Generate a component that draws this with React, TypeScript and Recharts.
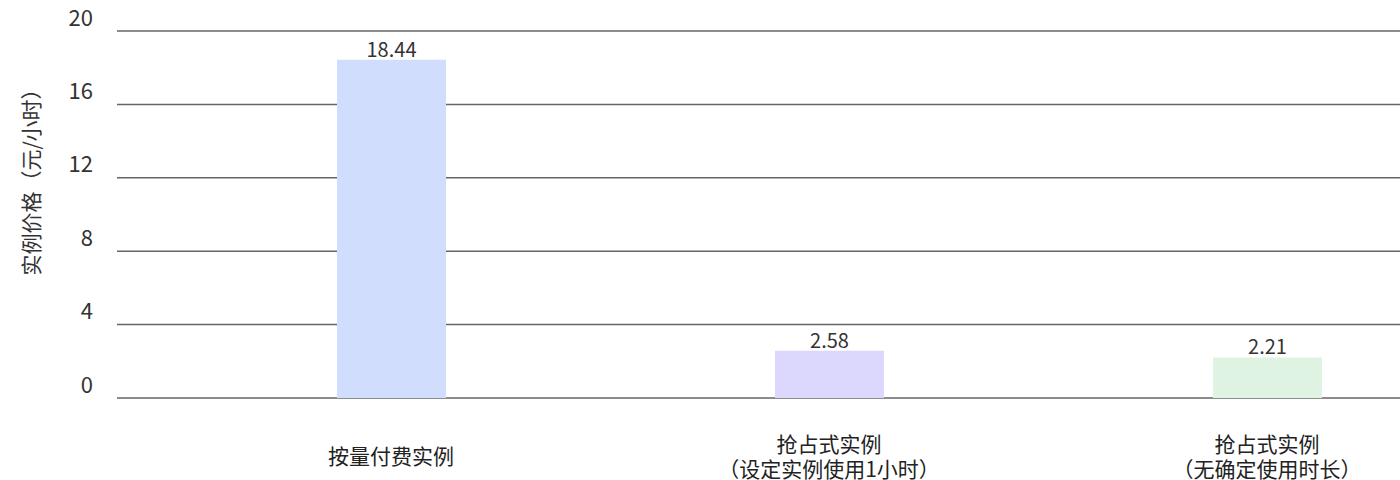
import React from 'react';
import { BarChart, Bar, XAxis, YAxis, CartesianGrid, Cell, LabelList } from 'recharts';

const categories = ['按量付费实例', '抢占式实例\n（设定实例使用1小时）', '抢占式实例\n（无确定使用时长）'];
const prices = [18.44, 2.58, 2.21];
const barColors = ['#d0ddfc', '#dcd7fc', '#dff3e3'];
const yTicks = [0, 4, 8, 12, 16, 20];
const yLabel = '实例价格（元/小时）';

const FONT = '"Noto Sans CJK SC", "Noto Sans", sans-serif';

const data = categories.map((name, i) => ({ name, value: prices[i] }));

// 纵轴刻度，文字在网格线上方
const YTick = (props: any) => {
  const { y, payload } = props;
  return (
    <text x={93} y={y - 15.5} textAnchor="end" dominantBaseline="central" fontSize={22} fill="#333" fontFamily={FONT}>
      {payload.value}
    </text>
  );
};

// 横轴刻度，支持换行
const XTick = (props: any) => {
  const { x, payload } = props;
  const lines = String(payload.value).split('\n');
  const lineH = 25;
  const startY = 455 - ((lines.length - 1) * lineH) / 2;
  return (
    <g>
      {lines.map((l, i) => (
        <text
          key={i}
          x={x}
          y={startY + i * lineH}
          textAnchor="middle"
          dominantBaseline="central"
          fontSize={21}
          fill="#222"
          fontFamily={FONT}
        >
          {l}
        </text>
      ))}
    </g>
  );
};

export default function App() {
  return (
    <div style={{ position: 'absolute', left: 0, top: 0, width: 1400, height: 480, overflow: 'hidden', background: '#fff' }}>
      <BarChart width={1486} height={480} data={data} margin={{ top: 31, right: 0, bottom: 0, left: 0 }}>
        <CartesianGrid vertical={false} stroke="#666" strokeWidth={1.5} />
        <XAxis
          dataKey="name"
          height={82}
          axisLine={false}
          tickLine={false}
          interval={0}
          padding={{ left: 55, right: 0 }}
          tick={<XTick />}
        />
        <YAxis
          width={117}
          domain={[0, 20]}
          ticks={yTicks}
          axisLine={false}
          tickLine={false}
          tick={<YTick />}
          label={{
            content: () => (
              <text
                x={30}
                y={177}
                transform="rotate(-90 30 177)"
                textAnchor="middle"
                dominantBaseline="central"
                fontSize={21}
                fill="#333"
                fontFamily={FONT}
              >
                {yLabel}
              </text>
            ),
          }}
        />
        <Bar dataKey="value" barSize={109} isAnimationActive={false}>
          {data.map((d, i) => (
            <Cell key={d.name} fill={barColors[i]} />
          ))}
          <LabelList dataKey="value" position="top" offset={3} fontSize={20} fill="#333" fontFamily={FONT} />
        </Bar>
      </BarChart>
    </div>
  );
}
